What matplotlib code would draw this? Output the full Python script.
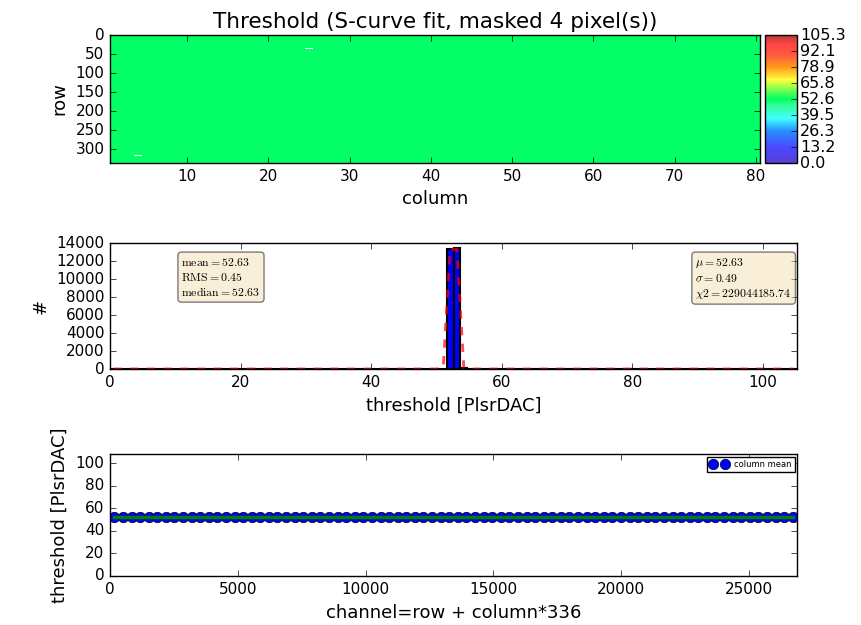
import numpy as np
import matplotlib
matplotlib.use("Agg")
import matplotlib.pyplot as plt
from matplotlib.colors import LinearSegmentedColormap, Normalize

plt.style.use("classic")
plt.rcParams["font.family"] = ["DejaVu Sans"]
plt.rcParams["mathtext.fontset"] = "cm"

# Daten
n_cols, n_rows = 80, 336
thr_mean = 52.63
z_max = 105.26  # 2 * median
masked_pixels = [(36, 25), (37, 25), (317, 4), (318, 4)]  # (row, column)

# Histogramm (bin-indeks -> antal), kanter 0..z_max i 100 bins
hist_bins = {48: 40, 49: 13380, 50: 13390, 51: 66}
fit_bins = {48: 130, 49: 13300, 50: 13300, 51: 130}
left_stats = (52.63, 0.45, 52.63)   # mean, RMS, median
right_stats = (52.63, 0.49, 229044185.74)  # mu, sigma, chi2

col_mean = [52.63] * n_cols

# Fargekart
cmap = LinearSegmentedColormap.from_list("thr", [
    (0.00, (0.33, 0.25, 0.82)),
    (0.12, (0.30, 0.28, 1.00)),
    (0.25, (0.15, 0.55, 1.00)),
    (0.35, (0.25, 1.00, 1.00)),
    (0.45, (0.20, 1.00, 0.60)),
    (0.50, (0.00, 1.00, 0.40)),
    (0.58, (0.50, 1.00, 0.30)),
    (0.65, (1.00, 1.00, 0.25)),
    (0.75, (1.00, 0.60, 0.10)),
    (0.85, (1.00, 0.35, 0.25)),
    (0.93, (1.00, 0.27, 0.27)),
    (1.00, (0.72, 0.22, 0.22)),
], N=256)
cmap.set_bad("w", 1.0)

hist2d = np.full((n_rows, n_cols), thr_mean)
for r, c in masked_pixels:
    hist2d[r - 1, c - 1] = np.nan

fig = plt.figure(figsize=(8.61, 6.25), dpi=100)
fig.patch.set_facecolor("white")

# Pixelkart
ax1 = fig.add_axes([0.1278, 0.7392, 0.7549, 0.2048])
im = ax1.imshow(np.ma.masked_invalid(hist2d), interpolation="none", aspect="auto",
                cmap=cmap, norm=Normalize(0, z_max), extent=[0.5, 80.5, 336.5, 0.5])
ax1.set_yticks(range(0, 301, 50))
ax1.set_xticks(range(10, 81, 10))
ax1.set_title("Threshold (S-curve fit, masked 4 pixel(s))", fontsize=15.5)
ax1.set_xlabel("column", fontsize=13)
ax1.set_ylabel("row", fontsize=13)
ax1.tick_params(labelsize=11)
cax = fig.add_axes([0.8885, 0.7392, 0.0372, 0.2048])
cb = fig.colorbar(im, cax=cax, ticks=np.linspace(0, z_max, 9))
cb.ax.set_yticklabels(["%.1f" % v for v in np.linspace(0, z_max, 9)])
cb.ax.tick_params(labelsize=11.5, direction="in", pad=2)

# Histogram
edges = np.linspace(0, z_max, 101)
centers = (edges[:-1] + edges[1:]) / 2
counts = np.zeros(100)
for k, v in hist_bins.items():
    counts[k] = v
fit_y = np.zeros(100)
for k, v in fit_bins.items():
    fit_y[k] = v

ax2 = fig.add_axes([0.1278, 0.4096, 0.7979, 0.2016])
ax2.hist(centers, bins=edges, weights=counts, color="b", edgecolor="k", linewidth=1.5)
ax2.plot(centers, fit_y, "r--", linewidth=2, alpha=0.7)
ax2.set_xlim(0, z_max)
ax2.set_ylim(0, 14000)
ax2.set_xticks(range(0, 101, 20))
ax2.set_yticks(range(0, 14001, 2000))
ax2.set_xlabel("threshold [PlsrDAC]", fontsize=13)
ax2.set_ylabel("#", fontsize=13)
ax2.tick_params(labelsize=11)
props = dict(boxstyle="round", facecolor="wheat", alpha=0.5)
textleft = "$\\mathrm{mean}=%.2f$\n$\\mathrm{RMS}=%.2f$\n$\\mathrm{median}=%.2f$" % left_stats
textright = "$\\mu=%.2f$\n$\\sigma=%.2f$\n$\\chi 2=%.2f$" % right_stats
ax2.text(0.104, 0.9, textleft, transform=ax2.transAxes, fontsize=8.5,
         verticalalignment="top", bbox=props)
ax2.text(0.852, 0.9, textright, transform=ax2.transAxes, fontsize=8.5,
         verticalalignment="top", bbox=props)

# Spreiing
ax3 = fig.add_axes([0.1278, 0.0784, 0.7979, 0.1952])
ax3.scatter(range(n_cols * n_rows), hist2d.flatten("F"), marker="o", s=0.8,
            color="b", rasterized=True)
mean_x = range(n_rows // 2, n_cols * n_rows + n_rows // 2, n_rows)
p1, = ax3.plot(mean_x, col_mean, "o", color="b", markersize=7.5)
ax3.plot(mean_x, col_mean, color="g", linewidth=2.5)
ax3.legend([p1], ["column mean"], prop={"size": 6}, loc="upper right",
           borderaxespad=0.3)
ax3.set_xlim(0, n_cols * n_rows)
ax3.set_ylim(0, 108)
ax3.set_yticks(range(0, 101, 20))
ax3.set_xlabel("channel=row + column*336", fontsize=13)
ax3.set_ylabel("threshold [PlsrDAC]", fontsize=13)
ax3.tick_params(labelsize=11)

fig.savefig("out.png", dpi=100, facecolor="white")
